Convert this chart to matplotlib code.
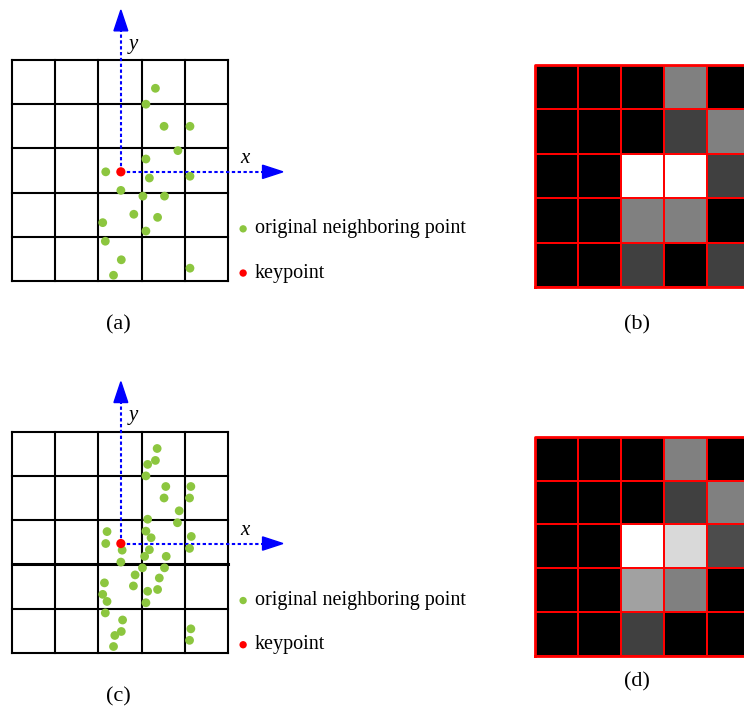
import matplotlib.pyplot as plt
import numpy as np

plt.rcParams['font.family'] = ['Liberation Serif', 'DejaVu Serif']

# neighbour points in grid-cell units (x right, y up), 5x5 grid
pts_a_x = [3.32, 3.10, 3.52, 4.12, 3.84, 3.10, 2.17, 3.18, 4.12, 2.52,
           3.03, 3.53, 2.82, 3.37, 2.10, 3.10, 2.16, 2.53, 4.12, 2.35]
pts_a_y = [4.36, 4.00, 3.50, 3.50, 2.95, 2.76, 2.47, 2.33, 2.37, 2.05,
           1.92, 1.92, 1.51, 1.44, 1.32, 1.13, 0.90, 0.48, 0.29, 0.13]

pts_c_x = [3.36, 3.32, 3.14, 3.10, 3.56, 4.14, 3.52, 4.11, 3.87, 3.83,
           3.14, 3.10, 3.22, 2.20, 2.17, 4.15, 4.11, 2.55, 3.18, 2.52,
           3.07, 3.57, 3.02, 3.53, 2.85, 3.41, 2.81, 2.14, 2.10, 2.20,
           3.14, 3.37, 3.10, 2.16, 2.56, 4.14, 2.38, 2.53, 4.11, 2.35]
pts_c_y = [4.62, 4.35, 4.26, 4.00, 3.76, 3.76, 3.50, 3.50, 3.21, 2.94,
           3.02, 2.75, 2.60, 2.74, 2.47, 2.63, 2.36, 2.32, 2.33, 2.05,
           2.18, 2.18, 1.92, 1.92, 1.76, 1.69, 1.51, 1.58, 1.32, 1.16,
           1.39, 1.43, 1.13, 0.90, 0.74, 0.54, 0.39, 0.48, 0.28, 0.14]

keypoint = (2.52, 2.47)

# normalised histogram values, top row first
hist_b = [[0, 0, 0, 0.50, 0],
          [0, 0, 0, 0.25, 0.50],
          [0, 0, 1.0, 1.0, 0.25],
          [0, 0, 0.50, 0.50, 0],
          [0, 0, 0.25, 0, 0.25]]
hist_d = [[0, 0, 0, 0.50, 0],
          [0, 0, 0, 0.25, 0.50],
          [0, 0, 1.0, 0.85, 0.30],
          [0, 0, 0.63, 0.50, 0],
          [0, 0, 0.25, 0, 0]]

legend_labels = ['original neighboring point', 'keypoint']
panel_labels = ['(a)', '(b)', '(c)', '(d)']

GREEN = '#8cc63f'
W, H = 744, 710
fig = plt.figure(figsize=(W / 100, H / 100), dpi=100)


def px_axes(left, top, width, height):
    return fig.add_axes([left / W, 1 - (top + height) / H, width / W, height / H])


def draw_points(ax, xs, ys, thick_row=None):
    ax.set_xlim(0, 5)
    ax.set_ylim(0, 5)
    ax.axis('off')
    for i in range(6):
        lw_h = 2.2 if (thick_row is not None and i == thick_row) else 1.5
        ax.plot([0, 5], [i, i], color='black', lw=lw_h, clip_on=False, zorder=1)
        ax.plot([i, i], [0, 5], color='black', lw=1.5, clip_on=False, zorder=1)

    kx, ky = keypoint
    ax.plot([kx, kx], [ky, 5.7], color='blue', lw=1.5, ls=(0, (1.6, 1.2)), clip_on=False, zorder=2)
    ax.plot([kx, 5.85], [ky, ky], color='blue', lw=1.5, ls=(0, (1.6, 1.2)), clip_on=False, zorder=2)
    ax.fill([kx - 0.16, kx + 0.16, kx], [5.66, 5.66, 6.13], color='blue', clip_on=False, zorder=3)
    ax.fill([5.8, 5.8, 6.27], [ky + 0.15, ky - 0.15, ky], color='blue', clip_on=False, zorder=3)
    ax.text(kx + 0.28, 5.36, 'y', style='italic', fontsize=15, ha='center', va='center')
    ax.text(5.4, ky + 0.3, 'x', style='italic', fontsize=15, ha='center', va='center')

    ax.scatter(xs, ys, s=40, color=GREEN, edgecolors='none', clip_on=False, zorder=4)
    ax.scatter([kx], [ky], s=44, color='red', edgecolors='none', clip_on=False, zorder=5)

    # legend
    ax.scatter([5.35], [1.18], s=28, color=GREEN, edgecolors='none', clip_on=False)
    ax.scatter([5.35], [0.18], s=28, color='red', edgecolors='none', clip_on=False)
    ax.text(5.62, 1.18, legend_labels[0], fontsize=14.5, va='center', ha='left')
    ax.text(5.62, 0.18, legend_labels[1], fontsize=14.5, va='center', ha='left')


def draw_hist(ax, vals):
    ax.pcolormesh(np.array(vals)[::-1], cmap='gray', vmin=0, vmax=1,
                  edgecolors='red', linewidth=1.4)
    ax.set_xlim(0, 5)
    ax.set_ylim(0, 5)
    ax.axis('off')
    ax.plot([0, 0, 5, 5, 0], [0, 5, 5, 0, 0], color='red', lw=2, clip_on=False)


ax_a = px_axes(12, 60, 216, 221)
draw_points(ax_a, pts_a_x, pts_a_y)
ax_c = px_axes(12, 431.7, 216, 221)
draw_points(ax_c, pts_c_x, pts_c_y, thick_row=2)

ax_b = px_axes(535, 65, 215, 222)
draw_hist(ax_b, hist_b)
ax_d = px_axes(535, 436.7, 215, 219)
draw_hist(ax_d, hist_d)

for lab, (x, y) in zip(panel_labels, [(118, 325), (637, 325), (118, 697), (637, 682)]):
    fig.text(x / W, 1 - y / H, lab, fontsize=16, ha='center', va='center')

fig.savefig('out.png', dpi=100)
